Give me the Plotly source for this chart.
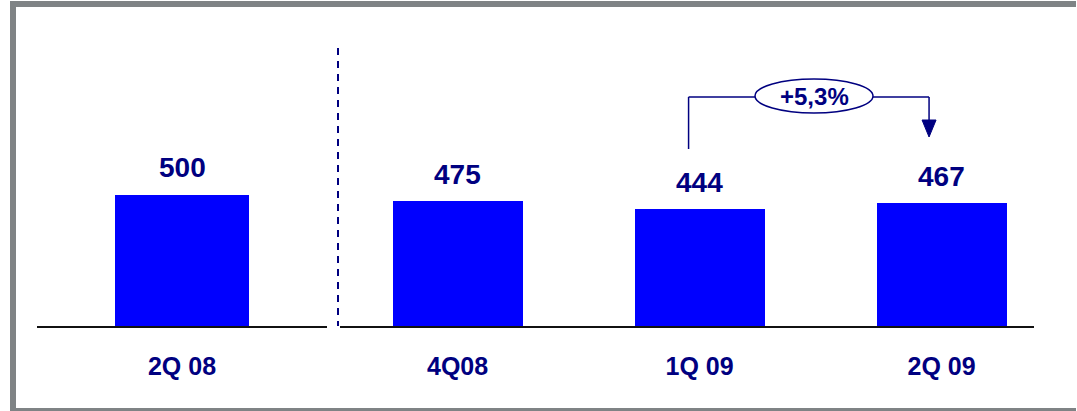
import plotly.graph_objects as go

# ---- data ----
prev_category = ["2Q 08"]
prev_value = [500]
categories = ["4Q08", "1Q 09", "2Q 09"]
values = [475, 444, 467]
growth_label = "+5,3%"

W, H = 1077, 411
BLUE = "#0000FF"
NAVY = "#000080"
GRAY = "#7f8385"

# vertical mapping: baseline at 326px, top of plot at 20px
Y_BOT_PX, Y_TOP_PX = 326, 20
Y_MAX = 1166
ypx = (Y_BOT_PX - Y_TOP_PX) / Y_MAX

def y_at(px):
    return (Y_BOT_PX - px) / ypx

# right axis mapping
X2_L, X2_R = 340, 1034
X2_RANGE = [-0.486, 2.382]
xpx = (X2_R - X2_L) / (X2_RANGE[1] - X2_RANGE[0])

def x2_at(px):
    return (px - X2_L) / xpx + X2_RANGE[0]

fig = go.Figure()
fig.add_bar(x=[0], y=prev_value, xaxis="x", yaxis="y", width=0.46,
            marker=dict(color=BLUE, line=dict(width=0)), hoverinfo="skip")
fig.add_bar(x=list(range(len(categories))), y=values, xaxis="x2", yaxis="y",
            width=0.537, marker=dict(color=BLUE, line=dict(width=0)), hoverinfo="skip")

tickfont = dict(family="Liberation Sans, Arial", size=25, color=NAVY, weight="bold")
common_x = dict(showline=True, linecolor="#111111", linewidth=2, ticks="",
                showgrid=False, zeroline=False, tickfont=tickfont,
                ticklabelstandoff=17, fixedrange=True)

fig.update_layout(
    width=W, height=H,
    margin=dict(l=0, r=0, t=0, b=0),
    paper_bgcolor="white", plot_bgcolor="white",
    showlegend=False, bargap=0,
    xaxis=dict(domain=[37 / W, 327 / W], range=[-0.5, 0.5],
               tickvals=[0], ticktext=[f"<b>{c}</b>" for c in prev_category],
               anchor="y", **common_x),
    xaxis2=dict(domain=[X2_L / W, X2_R / W], range=X2_RANGE,
                tickvals=list(range(len(categories))),
                ticktext=[f"<b>{c}</b>" for c in categories],
                anchor="y", **common_x),
    yaxis=dict(domain=[(H - Y_BOT_PX) / H, (H - Y_TOP_PX) / H], range=[0, Y_MAX],
               visible=False, fixedrange=True),
)

valfont = dict(family="Liberation Sans, Arial", size=28, color=NAVY)
annotations = []
annotations.append(dict(x=0, y=prev_value[0], xref="x", yref="y", text=f"<b>{prev_value[0]}</b>",
                        showarrow=False, yanchor="middle", yshift=27, font=valfont))
for i, v in enumerate(values):
    annotations.append(dict(x=i, y=v, xref="x2", yref="y", text=f"<b>{v}</b>",
                            showarrow=False, yanchor="middle", yshift=27, font=valfont))

# growth annotation (between 1Q 09 and 2Q 09)
xl = 1 - 11 / xpx
xr = 2 - 12.5 / xpx
ell_l, ell_r = x2_at(755), x2_at(873)
yh = y_at(97)
annotations.append(dict(x=(ell_l + ell_r) / 2, y=y_at(96), xref="x2", yref="y",
                        text=f"<b>{growth_label}</b>", showarrow=False,
                        font=dict(family="Liberation Sans, Arial", size=24, color=NAVY)))
fig.update_layout(annotations=annotations)

shapes = []
# frame (open on the right side)
shapes.append(dict(type="path", xref="paper", yref="paper",
                   path=f"M {10 / W} {1 - 1 / H} L {(W - 1) / W} {1 - 1 / H} L {(W - 1) / W} {1 - 7 / H} "
                        f"L {16 / W} {1 - 7 / H} L {16 / W} {3 / H} L {(W - 1) / W} {3 / H} "
                        f"L {(W - 1) / W} 0 L {10 / W} 0 Z",
                   fillcolor=GRAY, line=dict(width=0), layer="above"))
# dashed separator
shapes.append(dict(type="line", xref="paper", yref="paper", x0=338 / W, x1=338 / W,
                   y0=1 - 48 / H, y1=1 - 326 / H, line=dict(color=NAVY, width=2, dash="7px,6px")))
# connector lines
ln = dict(color=NAVY, width=1.5)
shapes.append(dict(type="line", xref="x2", yref="y", x0=xl, x1=xl, y0=y_at(149), y1=yh, line=ln))
shapes.append(dict(type="line", xref="x2", yref="y", x0=xl, x1=ell_l, y0=yh, y1=yh, line=ln))
shapes.append(dict(type="line", xref="x2", yref="y", x0=ell_r, x1=xr, y0=yh, y1=yh, line=ln))
shapes.append(dict(type="line", xref="x2", yref="y", x0=xr, x1=xr, y0=yh, y1=y_at(121), line=ln))
hw = 7 / xpx
shapes.append(dict(type="path", xref="x2", yref="y",
                   path=f"M {xr - hw} {y_at(120)} L {xr + hw} {y_at(120)} L {xr} {y_at(137)} Z",
                   fillcolor=NAVY, line=dict(color=NAVY, width=1)))
shapes.append(dict(type="circle", xref="x2", yref="y", x0=ell_l, x1=ell_r,
                   y0=y_at(113), y1=y_at(79), fillcolor="white", line=dict(color=NAVY, width=1.5)))
fig.update_layout(shapes=shapes)

fig.write_html("out.html", config={"displayModeBar": False, "staticPlot": True},
               post_script="document.body.style.margin='0px';document.body.style.padding='0px';document.body.style.overflow='hidden';")
